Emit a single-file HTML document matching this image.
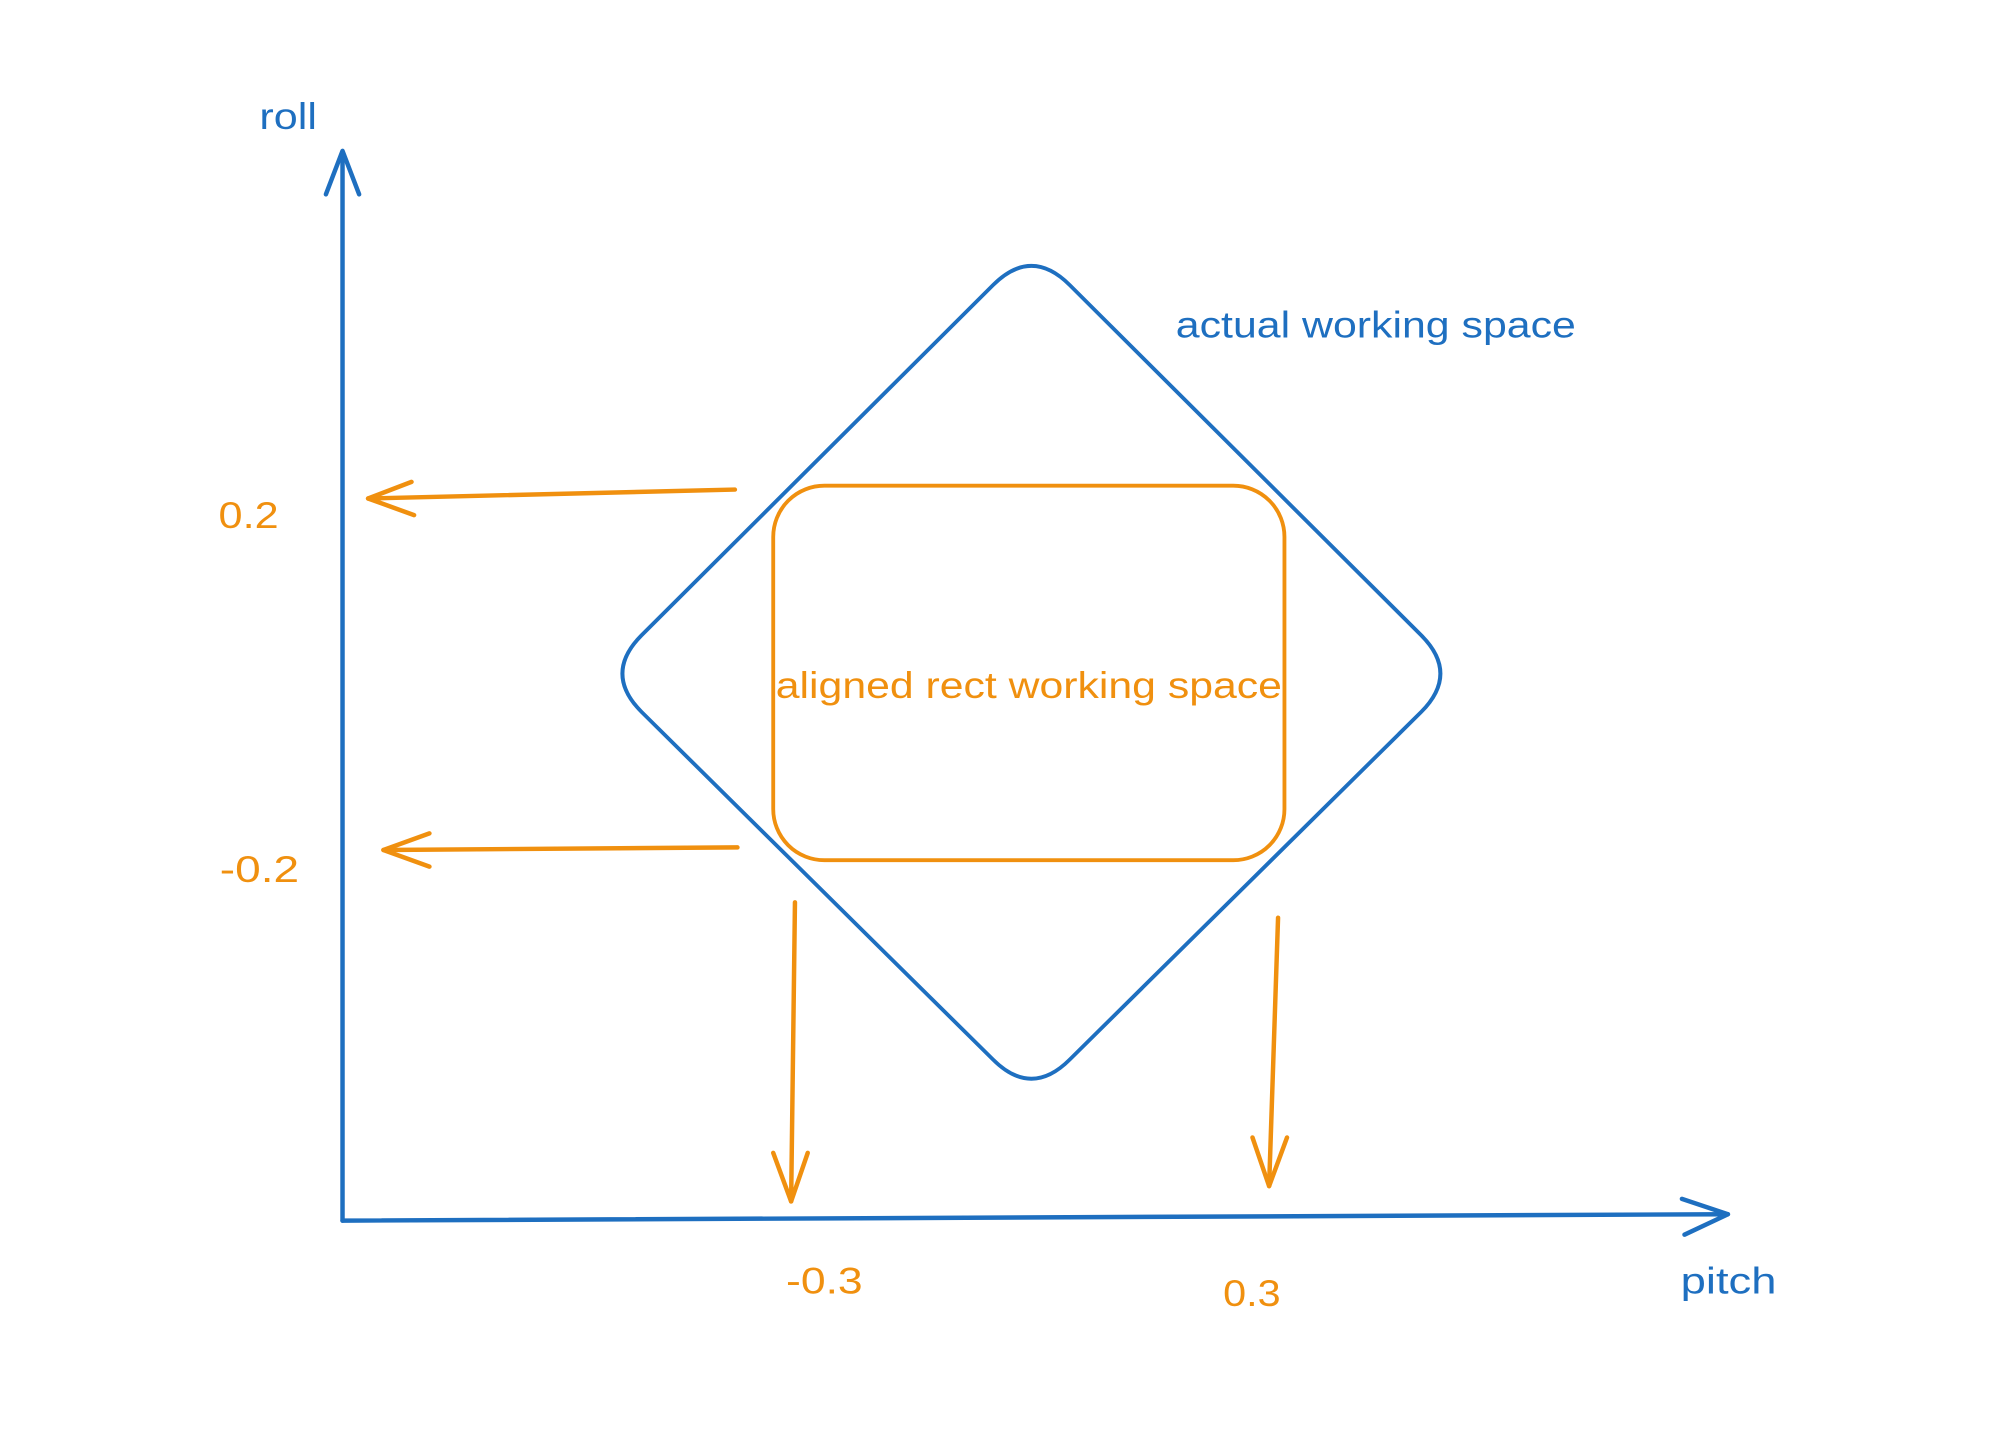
<!DOCTYPE html>
<html><head><meta charset="utf-8"><style>
html,body{margin:0;padding:0;background:#fff;}
svg{display:block;}
text{font-family:"Liberation Sans",sans-serif;}
</style></head><body>
<svg width="2004" height="1452" viewBox="0 0 1568 1136" xmlns="http://www.w3.org/2000/svg">
<rect width="1568" height="1136" fill="#fff"/>
<g fill="none" stroke="#1e6fc0" stroke-width="3.5" stroke-linecap="round" stroke-linejoin="round">
<path d="M268 955 L268 120"/>
<path d="M255 152 L268 118 L281 152"/>
<path d="M268 955 L1352 950"/>
<path d="M1316 938 L1352 950 L1318 966"/>
<path d="M777 223 C797 203 817 203 837 223 L1112 497 C1132 517 1132 537 1112 557 L837 829 C817 849 797 849 777 829 L502 557 C482 537 482 517 502 497 Z" stroke-width="3"/>
</g>
<g fill="none" stroke="#f0900f" stroke-width="3.5" stroke-linecap="round" stroke-linejoin="round">
<rect x="605" y="380" width="400" height="293" rx="40" ry="40" stroke-width="3"/>
<path d="M575 383 L288 390"/>
<path d="M322 377 L288 390 L324 403"/>
<path d="M577 663 L300 665"/>
<path d="M336 652 L300 665 L336 678"/>
<path d="M622 706 L619 940"/>
<path d="M605 902 L619 940 L632 902"/>
<path d="M1000 718 L993 928"/>
<path d="M980 890 L993 928 L1007 890"/>
</g>
<g fill="#1e6fc0" font-size="29">
<text x="203" y="101" textLength="45" lengthAdjust="spacingAndGlyphs">roll</text>
<text x="1315" y="1012" textLength="75" lengthAdjust="spacingAndGlyphs">pitch</text>
<text x="920" y="264" textLength="313" lengthAdjust="spacingAndGlyphs">actual working space</text>
</g>
<g fill="#f0900f" font-size="29">
<text x="607" y="546" textLength="396" lengthAdjust="spacingAndGlyphs">aligned rect working space</text>
<text x="171" y="413" textLength="47" lengthAdjust="spacingAndGlyphs">0.2</text>
<text x="172" y="690" textLength="62" lengthAdjust="spacingAndGlyphs">-0.2</text>
<text x="615" y="1012" textLength="60" lengthAdjust="spacingAndGlyphs">-0.3</text>
<text x="957" y="1022" textLength="45" lengthAdjust="spacingAndGlyphs">0.3</text>
</g>
</svg>
</body></html>
